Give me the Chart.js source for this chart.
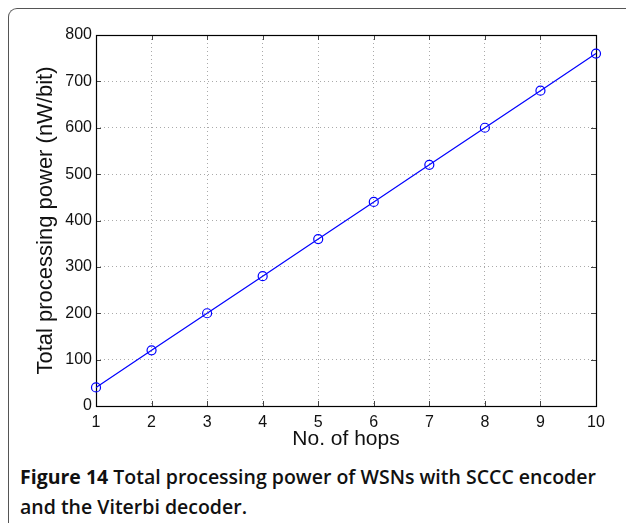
<!DOCTYPE html>
<html>
<head>
<meta charset="utf-8">
<script src="https://cdn.jsdelivr.net/npm/chart.js@4"></script>
<style>
  html, body { margin: 0; padding: 0; background: #fff; }
  body { width: 626px; height: 523px; position: relative; overflow: hidden; }
  .frame {
    position: absolute; left: 8px; top: 8px; width: 640px; height: 540px;
    border-top: 1.5px solid #555; border-left: 1.5px solid #555;
    border-top-left-radius: 9px;
  }
  .chart-box { position: absolute; left: 0; top: 0; width: 626px; height: 460px; }
  .caption {
    position: absolute; left: 20px; top: 462px; width: 606px; white-space: nowrap;
    font-family: "Open Sans", sans-serif; font-size: 19.5px; line-height: 29.5px;
    font-weight: 600; color: #111;
  }
  .caption b { font-weight: 700; }
</style>
</head>
<body>
<div class="frame"></div>
<div class="chart-box"><canvas id="chart" width="626" height="460"></canvas></div>
<div class="caption"><b>Figure 14</b> Total processing power of WSNs with SCCC encoder<br>and the Viterbi decoder.</div>
<script>
// data
const hops = [1, 2, 3, 4, 5, 6, 7, 8, 9, 10];
const powerNW = [40, 120, 200, 280, 360, 440, 520, 600, 680, 760];
const yTicks = [0, 100, 200, 300, 400, 500, 600, 700, 800];

const FONT = '"Liberation Sans", Arial, Helvetica, sans-serif';

// matlab style box with inward tick marks
const boxPlugin = {
  id: 'box',
  beforeDatasetsDraw(chart) {
    const { ctx, chartArea: a, scales } = chart;
    ctx.save();
    ctx.strokeStyle = '#444';
    ctx.lineWidth = 1;
    const len = 5;
    ctx.beginPath();
    scales.x.ticks.forEach(t => {
      const px = Math.round(scales.x.getPixelForValue(t.value)) + 0.5;
      ctx.moveTo(px, a.bottom); ctx.lineTo(px, a.bottom - len);
      ctx.moveTo(px, a.top); ctx.lineTo(px, a.top + len);
    });
    scales.y.ticks.forEach(t => {
      const py = Math.round(scales.y.getPixelForValue(t.value)) + 0.5;
      ctx.moveTo(a.left, py); ctx.lineTo(a.left + len, py);
      ctx.moveTo(a.right, py); ctx.lineTo(a.right - len, py);
    });
    ctx.stroke();
    ctx.strokeStyle = '#000';
    ctx.lineWidth = 1.2;
    ctx.strokeRect(Math.round(a.left) + 0.5, Math.round(a.top) + 0.5,
      Math.round(a.right - a.left), Math.round(a.bottom - a.top));
    ctx.restore();
  }
};

new Chart(document.getElementById('chart'), {
  type: 'line',
  data: {
    datasets: [{
      data: hops.map((h, i) => ({ x: h, y: powerNW[i] })),
      borderColor: '#0000ff',
      borderWidth: 1.2,
      pointStyle: 'circle',
      pointRadius: 4.5,
      pointBorderWidth: 1.2,
      pointBorderColor: '#0000ff',
      pointBackgroundColor: 'rgba(0,0,0,0)',
      tension: 0,
      clip: false
    }]
  },
  options: {
    responsive: false,
    animation: false,
    events: [],
    layout: { padding: { left: 0, top: 35, right: 30, bottom: 0 } },
    plugins: { legend: { display: false }, tooltip: { enabled: false } },
    scales: {
      x: {
        type: 'linear',
        min: 1, max: 10,
        afterFit(scale) { scale.height = 54; },
        afterBuildTicks(scale) { scale.ticks = hops.map(v => ({ value: v })); },
        ticks: { color: '#111', padding: 7, font: { family: FONT, size: 16 }, maxRotation: 0 },
        grid: { color: '#aaa', lineWidth: 1, drawTicks: false },
        border: { display: false, dash: [1, 3] },
        title: { display: true, text: 'No. of hops', color: '#111', font: { family: FONT, size: 21 }, padding: { top: 0, bottom: 8 } }
      },
      y: {
        min: 0, max: 800,
        afterFit(scale) { scale.width = 96; },
        afterBuildTicks(scale) { scale.ticks = yTicks.map(v => ({ value: v })); },
        ticks: { color: '#111', padding: 4, font: { family: FONT, size: 16 } },
        grid: { color: '#aaa', lineWidth: 1, drawTicks: false },
        border: { display: false, dash: [1, 3] },
        title: { display: true, text: 'Total processing power (nW/bit)', color: '#111', font: { family: FONT, size: 22 }, padding: { top: 33, bottom: 0 } }
      }
    }
  },
  plugins: [boxPlugin]
});
</script>
</body>
</html>
